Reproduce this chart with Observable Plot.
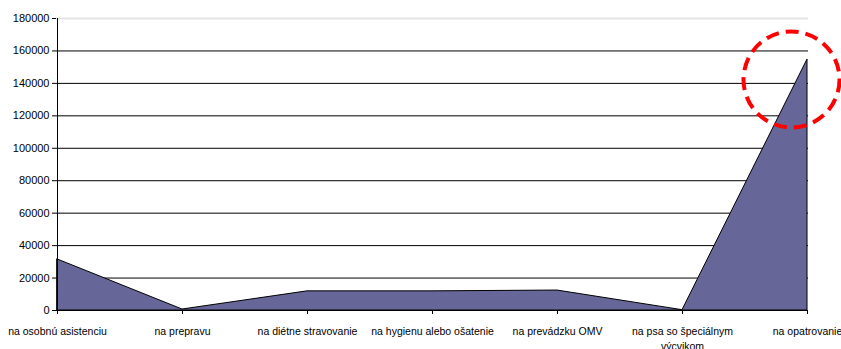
<!DOCTYPE html>
<html>
<head>
<meta charset="utf-8">
<script src="https://cdn.jsdelivr.net/npm/d3@7"></script>
<script src="https://cdn.jsdelivr.net/npm/@observablehq/plot@0.6"></script>
<style>
  html, body { margin: 0; padding: 0; background: #fff; }
  #chart svg { display: block; }
</style>
</head>
<body>
<div id="chart"></div>
<script>
const categories = [
  "na osobnú asistenciu",
  "na prepravu",
  "na diétne stravovanie",
  "na hygienu alebo ošatenie",
  "na prevádzku OMV",
  "na psa so špeciálnym výcvikom",
  "na opatrovanie"
];
const values = [31500, 600, 11800, 11800, 12300, 200, 154700];
const yTicks = [0, 20000, 40000, 60000, 80000, 100000, 120000, 140000, 160000, 180000];
const tickLabels = {
  "na psa so špeciálnym výcvikom": "na psa so špeciálnym\nvýcvikom"
};
const highlight = [{category: "na opatrovanie", value: 142400}];

const data = categories.map((c, i) => ({category: c, value: values[i]}));

const chart = Plot.plot({
  width: 841,
  height: 349,
  marginLeft: 56,
  marginRight: 33,
  marginTop: 18,
  marginBottom: 39,
  style: {fontFamily: "'Liberation Sans', Arial, sans-serif", fontSize: "11px", color: "#000", background: "#fff"},
  x: {type: "point", domain: categories, padding: 0, label: null},
  y: {domain: [0, 180000], label: null},
  marks: [
    Plot.ruleY(yTicks.filter(d => d > 0 && d < 180000), {stroke: "#000", strokeWidth: 1}),
    Plot.ruleY([180000], {stroke: "#e4e4e4", strokeWidth: 2}),
    Plot.areaY(data, {x: "category", y: "value", fill: "#666699", stroke: "#000", strokeWidth: 1, curve: "linear"}),
    Plot.ruleX([categories[0]], {stroke: "#000"}),
    Plot.ruleY([0], {stroke: "#000"}),
    Plot.axisY({ticks: yTicks, tickSize: 4, tickPadding: 3, tickFormat: d => String(d), fontSize: 11, label: null}),
    Plot.axisX({tickSize: 4, tickPadding: 9, lineHeight: 1.5, fontSize: 10.5, label: null, tickFormat: d => tickLabels[d] || d}),
    Plot.dot(highlight, {x: "category", y: "value", r: 48, dx: -16, fill: "none", stroke: "#ff0000", strokeWidth: 4, strokeDasharray: "13,7"})
  ]
});
document.getElementById("chart").appendChild(chart);
</script>
</body>
</html>
